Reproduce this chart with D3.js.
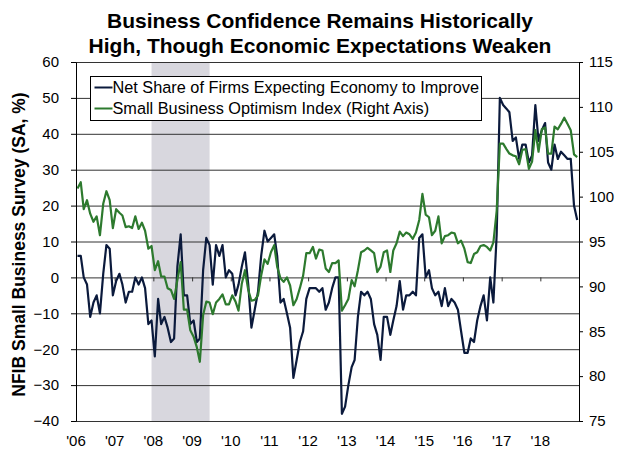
<!DOCTYPE html>
<html>
<head>
<meta charset="utf-8">
<script src="https://cdn.jsdelivr.net/npm/d3@7"></script>
<style>
  body { margin: 0; background: #fff; }
  svg { font-family: "Liberation Sans", Arial, sans-serif; }
</style>
</head>
<body>
<svg id="chart" width="641" height="452"></svg>
<script>
// Net share of firms expecting economy to improve (%), monthly Jan 2006 - Dec 2018
const netEcon = [
  6, 6, 0, -2, -11, -7, -5, -10, 1, 9, 8, -5,
  -1, 1, -2, -7, -4, -4, 0, -2, 0, -3, -13, -12,
  -22, -6, -13, -11, -14, -18, -17, 3, 12, -5, -5, -13,
  -12, -18, -17, 2, 11, 9, -2, 9, 6, 9, 0, 2,
  1, -5, -2, 3, 7, -2, -14, -9, -4, 6, 13, 10,
  11, 12, 6, -7, -6, -10, -14, -28, -23, -18, -15, -6,
  -3, -3, -3, -4, -3, -9, -7, -3, 0, 0, -38, -36,
  -30, -25, -23, -11, -4, -5, -4, -6, -13, -16, -23, -11,
  -11, -16, -12, -8, -1, -9, -5, -5, -4, -5, 11, 12,
  0, 2, -3, -5, -4, -8, -3, -8, -6, -7, -9, -15,
  -21, -21, -17, -18, -12, -8, -5, -12, 0, -7, 12, 50,
  48, 47, 46, 38, 39, 33, 37, 37, 32, 34, 48, 38,
  41, 43, 32, 30, 37, 33, 35, 34, 33, 33, 20, 16
];

// Small Business Optimism Index (right axis), same months
const optimism = [
  100.9, 101.6, 98.6, 99.6, 98.1, 97.2, 97.8, 95.7, 99.2, 100.6, 99.6, 96.5,
  98.6, 98.2, 97.9, 96.6, 96.7, 96.5, 97.8, 96.4, 97.1, 96.2, 94.2, 94.5,
  91.8, 92.8, 91.1, 91.1, 89.8, 89.6, 88.6, 90.7, 92.7, 87.4, 87.4, 85.1,
  84.4, 83.2, 81.6, 86.8, 88.3, 88.2, 86.9, 88.2, 88.6, 89.1, 88.0, 88.0,
  89.0, 88.3, 87.3, 90.3, 91.8, 89.6, 88.4, 88.5, 89.0, 91.2, 93.0, 92.5,
  93.8, 94.6, 92.2, 90.9, 90.5, 91.0, 90.1, 87.9, 88.6, 89.8, 91.2, 93.7,
  93.7, 94.4, 93.1, 94.1, 94.0, 92.0, 91.6, 92.6, 92.6, 92.9, 87.3, 87.9,
  88.6, 90.7, 90.0, 91.8, 93.8, 94.0, 94.3, 94.0, 93.7, 91.6, 92.2, 93.8,
  94.0, 91.6, 94.0, 94.8, 96.1, 95.6, 96.0, 95.8, 95.3, 96.0, 97.4, 100.3,
  98.0, 97.7, 95.7, 96.2, 97.8, 94.8, 95.6, 95.7, 96.0, 95.9, 94.8, 95.1,
  94.2, 92.7, 92.6, 93.6, 93.8, 94.5, 94.6, 94.4, 94.0, 94.9, 98.4, 105.9,
  105.9, 105.3, 104.8, 104.6, 104.5, 103.6, 105.2, 105.3, 103.1, 103.9, 107.4, 105.0,
  107.5, 107.7, 104.8, 104.8, 107.8, 107.5, 108.1, 108.8, 108.1, 107.4, 104.7, 104.4
];

const yearLabels = ["'06", "'07", "'08", "'09", "'10", "'11", "'12", "'13", "'14", "'15", "'16", "'17", "'18"];
const leftTicks = [-40, -30, -20, -10, 0, 10, 20, 30, 40, 50, 60];
const rightTicks = [75, 80, 85, 90, 95, 100, 105, 110, 115];
const seriesNames = ["Net Share of Firms Expecting Economy to Improve", "Small Business Optimism Index (Right Axis)"];
const recession = [new Date(2007, 11, 15), new Date(2009, 5, 15)];

const colors = { net: "#0b1a3c", opt: "#2d7a2e" };
const plot = { left: 76, right: 579, top: 62, bottom: 421 };

const svg = d3.select("#chart");

// scales
const x = d3.scaleTime()
  .domain([new Date(2006, 0, 1), new Date(2019, 0, 1)])
  .range([plot.left, plot.right]);
const yL = d3.scaleLinear().domain([-40, 60]).range([plot.bottom, plot.top]);
const yR = d3.scaleLinear().domain([75, 115]).range([plot.bottom, plot.top]);

// monthly points sit mid-month
const months = d3.timeMonth.range(new Date(2006, 0, 1), new Date(2019, 0, 1))
  .map(d => d3.timeDay.offset(d, 14));

// recession shading
svg.append("rect")
  .attr("x", x(recession[0]))
  .attr("y", plot.top)
  .attr("width", x(recession[1]) - x(recession[0]))
  .attr("height", plot.bottom - plot.top)
  .attr("fill", "#d8d7de");

// gridlines
svg.append("g")
  .attr("transform", `translate(${plot.left},0)`)
  .call(d3.axisLeft(yL).tickValues(leftTicks).tickSize(-(plot.right - plot.left)).tickFormat(""))
  .call(g => g.select(".domain").remove())
  .call(g => g.selectAll("line").attr("stroke", "#333"));

// x tick marks on the zero line
svg.append("g")
  .attr("transform", `translate(0,${yL(0)})`)
  .call(d3.axisBottom(x).ticks(d3.timeYear.every(1)).tickSize(4).tickFormat(""))
  .call(g => g.select(".domain").remove())
  .call(g => g.selectAll("line").attr("stroke", "#333"));

// year labels
svg.append("g")
  .selectAll("text")
  .data(yearLabels)
  .join("text")
  .attr("x", (d, i) => x(new Date(2006 + i, 0, 1)))
  .attr("y", 446)
  .attr("text-anchor", "middle")
  .attr("font-size", 15)
  .text(d => d);

// lines
const lineNet = d3.line().x((d, i) => x(months[i])).y(d => yL(d));
const lineOpt = d3.line().x((d, i) => x(months[i])).y(d => yR(d));

svg.append("path")
  .datum(netEcon)
  .attr("d", lineNet)
  .attr("fill", "none")
  .attr("stroke", colors.net)
  .attr("stroke-width", 2.2)
  .attr("stroke-linejoin", "round");

svg.append("path")
  .datum(optimism)
  .attr("d", lineOpt)
  .attr("fill", "none")
  .attr("stroke", colors.opt)
  .attr("stroke-width", 2.2)
  .attr("stroke-linejoin", "round");

// left axis
svg.append("g")
  .attr("transform", `translate(${plot.left},0)`)
  .call(d3.axisLeft(yL).tickValues(leftTicks).tickSize(5).tickPadding(12).tickSizeOuter(0))
  .call(g => g.selectAll("text").attr("font-size", 15).attr("font-family", null))
  .call(g => g.selectAll("line, path").attr("stroke", "#000"));

// right axis
svg.append("g")
  .attr("transform", `translate(${plot.right},0)`)
  .call(d3.axisRight(yR).tickValues(rightTicks).tickSize(4).tickPadding(6).tickSizeOuter(0))
  .call(g => g.selectAll("text").attr("font-size", 15).attr("font-family", null))
  .call(g => g.selectAll("line, path").attr("stroke", "#000"));

// y axis title
svg.append("text")
  .attr("transform", `translate(25,${(plot.top + plot.bottom) / 2 + 3}) rotate(-90)`)
  .attr("text-anchor", "middle")
  .attr("font-size", 17.5)
  .attr("font-weight", "bold")
  .text("NFIB Small Business Survey (SA, %)");

// title
const title = svg.append("text")
  .attr("text-anchor", "middle")
  .attr("font-size", 21)
  .attr("font-weight", "bold");
title.append("tspan").attr("x", 320).attr("y", 28).text("Business Confidence Remains Historically");
title.append("tspan").attr("x", 320).attr("y", 53).text("High, Though Economic Expectations Weaken");

// legend
const legend = svg.append("g").attr("transform", "translate(90.5,76.5)");
legend.append("rect")
  .attr("width", 391)
  .attr("height", 44)
  .attr("fill", "#fff")
  .attr("stroke", "#000");

legend.selectAll("g")
  .data(seriesNames)
  .join("g")
  .attr("transform", (d, i) => `translate(0,${11 + i * 21})`)
  .call(g => {
    g.append("line")
      .attr("x1", 4)
      .attr("x2", 22)
      .attr("stroke", (d, i) => i === 0 ? colors.net : colors.opt)
      .attr("stroke-width", 2);
    g.append("text")
      .attr("x", 22)
      .attr("y", 5.8)
      .attr("font-size", 16.3)
      .text(d => d);
  });
</script>
</body>
</html>
